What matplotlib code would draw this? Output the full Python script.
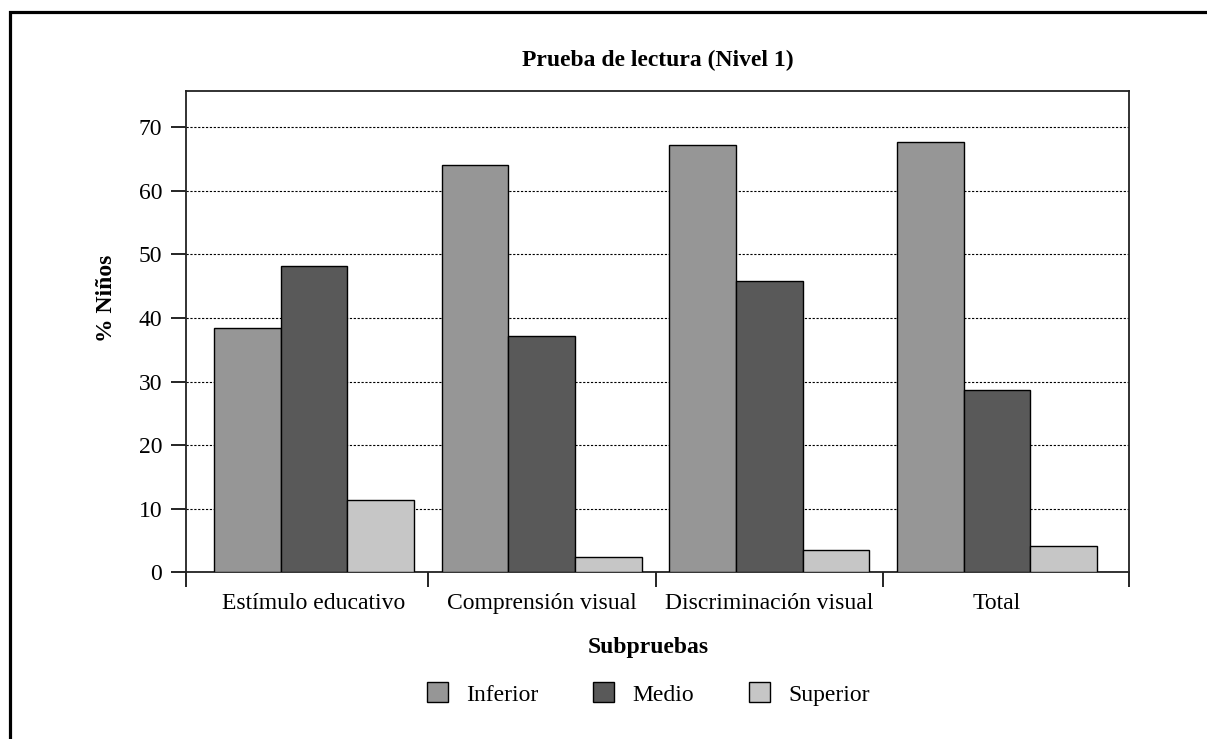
import matplotlib
matplotlib.use("Agg")
import matplotlib.pyplot as plt
import numpy as np
from matplotlib.patches import Rectangle

categories = ["Estímulo educativo", "Comprensión visual", "Discriminación visual", "Total"]
series_names = ["Inferior", "Medio", "Superior"]
inferior = [38.4, 64.1, 67.2, 67.7]
medio = [48.2, 37.2, 45.8, 28.6]
superior = [11.3, 2.45, 3.5, 4.2]
yticks = [0, 10, 20, 30, 40, 50, 60, 70]

colors = ["#969696", "#595959", "#c6c6c6"]

plt.rcParams['font.family'] = ['Liberation Serif', 'DejaVu Serif']

fig = plt.figure(figsize=(12.07, 7.39), dpi=100)
ax = fig.add_axes([185.7/1207, 1-572.3/739, (1129-185.7)/1207, (572.3-91)/739])

x = np.arange(len(categories))
w = 0.293
for i, (vals, name) in enumerate(zip([inferior, medio, superior], series_names)):
    ax.bar(x + (i-1)*w, vals, width=w, color=colors[i], edgecolor='black', linewidth=1.0, label=name, zorder=3)

pad_l, pad_r = 0.064, 0.08
ax.set_xlim(-0.5-pad_l, len(categories)-0.5+pad_r)
ax.set_ylim(0, 75.7)
ax.set_yticks(yticks)
ax.set_yticklabels([str(t) for t in yticks], fontsize=17)
ax.tick_params(axis='y', direction='out', length=11, width=1.2, pad=6)
ax.yaxis.grid(True, linestyle=(0, (2, 1.5)), color='black', linewidth=0.8, zorder=0)

ax.set_xticks([-0.5-pad_l, 0.5, 1.5, 2.5, len(categories)-0.5+pad_r])
ax.set_xticklabels([])
ax.tick_params(axis='x', which='major', direction='out', length=11, width=1.2)
ax.set_xticks(x, minor=True)
ax.set_xticklabels(categories, minor=True, fontsize=17)
ax.tick_params(axis='x', which='minor', length=0, pad=15)

for s in ax.spines.values():
    s.set_linewidth(1.3)
    s.set_color('#222222')

fig.text(658/1207, 1-60/739, "Prueba de lectura (Nivel 1)", ha='center', va='center', fontsize=17, fontweight='bold')
fig.text(106/1207, 1-298/739, "% Niños", ha='center', va='center', rotation=90, fontsize=17, fontweight='bold')
fig.text(648/1207, 1-648/739, "Subpruebas", ha='center', va='center', fontsize=17, fontweight='bold')

leg = fig.legend(loc='center', bbox_to_anchor=(648/1207, 1-694/739), ncol=3, frameon=False,
                 fontsize=17, handlelength=0.9, handleheight=0.93, columnspacing=2.33, handletextpad=0.76)

fig.patches.append(Rectangle((10/1207, -0.05), 1.2, 1-12/739+0.05, transform=fig.transFigure,
                             fill=False, edgecolor='black', linewidth=2.3))

fig.savefig("out.png", dpi=100)
